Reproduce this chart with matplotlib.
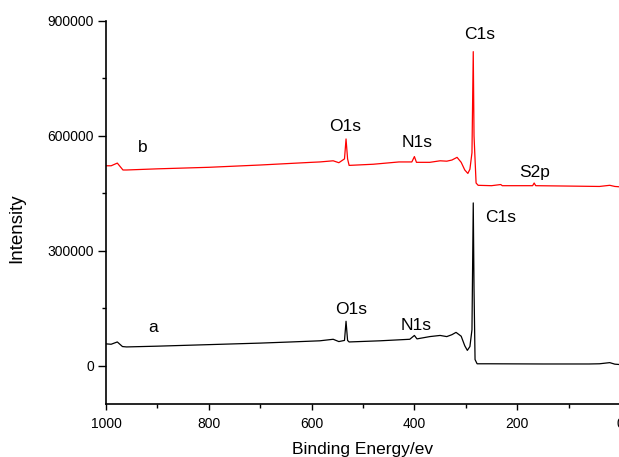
import matplotlib
matplotlib.use("Agg")
import matplotlib.pyplot as plt
from matplotlib.ticker import MultipleLocator, FuncFormatter

plt.rcParams['font.family'] = ['Liberation Sans', 'DejaVu Sans']

# spectrum a (black)
energy_a = [1000, 990, 978, 968, 960, 900, 800, 700, 640, 584, 558, 547, 536, 533, 530, 527,
            467, 409, 400, 395, 370, 350, 337, 327, 319, 309, 302, 297, 292, 288, 285.5,
            284, 282, 278, 253, 150, 60, 40, 20, 10, 0]
counts_a = [57000, 56000, 62000, 50000, 49000, 51000, 55000, 59000, 62000, 65000, 69000, 63000,
            66000, 116000, 66000, 62000, 65000, 69000, 79000, 70000, 76000, 79000, 76000, 81000,
            87000, 77000, 52000, 40000, 50000, 94000, 425000, 200000, 16000, 5000, 5000, 4500,
            4500, 5000, 8000, 4000, 3000]

# spectrum b (red)
energy_b = [1000, 990, 978, 967, 960, 900, 800, 700, 600, 584, 558, 547, 536, 533, 530, 527,
            480, 430, 405, 400, 396, 370, 350, 337, 327, 317, 309, 302, 296, 292, 288, 285.5,
            284, 280, 276, 250, 232, 229, 170, 167, 164, 100, 40, 20, 10, 0]
counts_b = [522000, 522000, 529000, 511000, 511000, 514000, 518000, 524000, 531000, 532000,
            535000, 530000, 540000, 592000, 540000, 523000, 526000, 532000, 532000, 546000,
            531000, 531000, 535000, 534000, 537000, 544000, 531000, 511000, 502000, 513000,
            556000, 820000, 600000, 477000, 471000, 470000, 473000, 470000, 470000, 477000,
            470000, 469000, 468000, 471000, 468000, 467000]

# peak labels: (text, energy, intensity)
labels_b = [('C1s', 273, 864000), ('O1s', 534, 624000), ('N1s', 395, 582000), ('S2p', 167, 504000)]
labels_a = [('C1s', 233, 386000), ('O1s', 523, 147000), ('N1s', 397, 106000)]
curve_names = [('b', 929, 569000), ('a', 909, 99000)]

fig = plt.figure(figsize=(6.19, 4.57), dpi=100)
ax = fig.add_axes([106/619, 53/457, 514/619, 383/457])

ax.plot(energy_a, counts_a, color='black', lw=0.9)
ax.plot(energy_b, counts_b, color='red', lw=0.9)

for txt, x, y in labels_b + labels_a + curve_names:
    ax.text(x, y, txt, fontsize=12.5, ha='center', va='center')

ax.set_xlim(1000, 0)
ax.set_ylim(-100000, 900000)
ax.xaxis.set_major_locator(MultipleLocator(200))
ax.xaxis.set_minor_locator(MultipleLocator(100))
ax.yaxis.set_major_locator(MultipleLocator(300000))
ax.yaxis.set_minor_locator(MultipleLocator(150000))
ax.yaxis.set_major_formatter(FuncFormatter(lambda v, p: '%d' % v))

ax.spines['top'].set_visible(False)
ax.spines['right'].set_visible(False)
for s in ['left', 'bottom']:
    ax.spines[s].set_linewidth(1.2)
ax.tick_params(which='major', direction='out', length=5.5, width=1, labelsize=10, pad=3)
ax.tick_params(which='minor', direction='out', length=3, width=1)
ax.tick_params(axis='x', which='major', length=4, pad=5)
ax.tick_params(axis='x', which='minor', length=3)

ax.set_xlabel('Binding Energy/ev', fontsize=12.5, va='top')
ax.xaxis.set_label_coords(0.5, -0.098)
ax.set_ylabel('Intensity', fontsize=13.5, va='bottom')
ax.yaxis.set_label_coords(-0.158, 0.46)

fig.savefig('out.png', dpi=100)
